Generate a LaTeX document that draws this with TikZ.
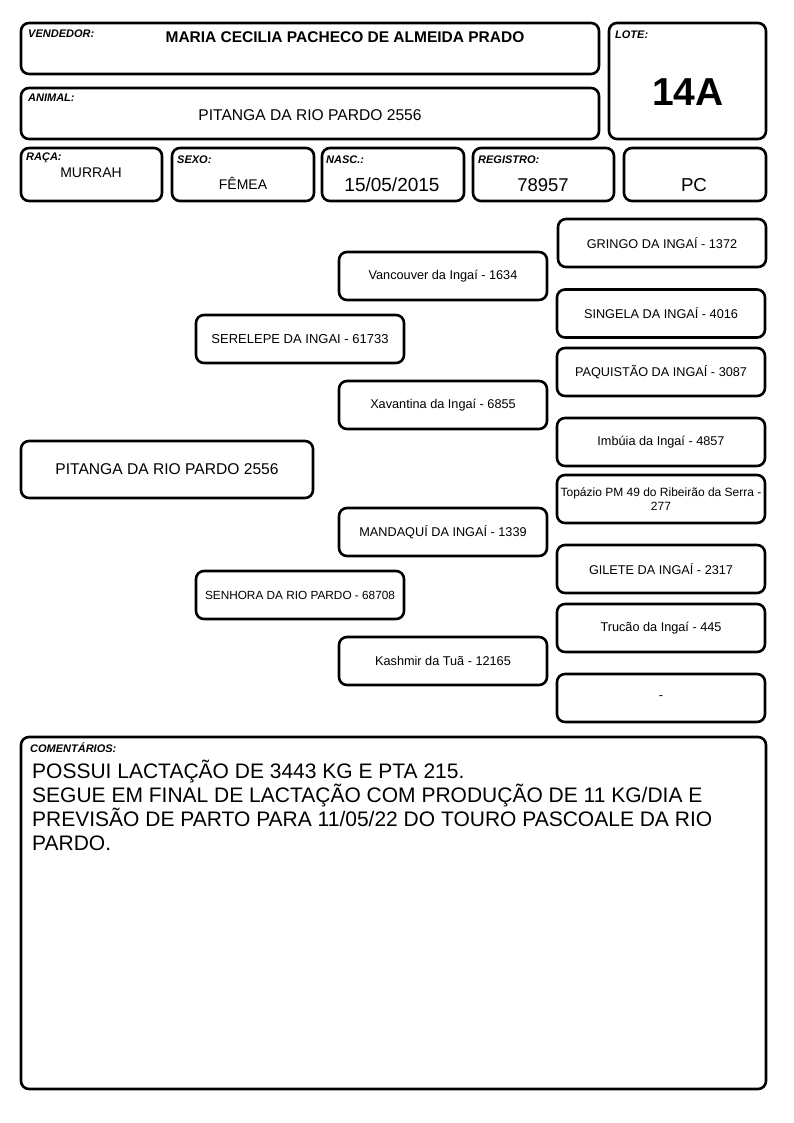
\documentclass[tikz,border=0pt]{standalone}
\usepackage{fontspec}
\setmainfont{Liberation Sans}
\begin{document}
\begin{tikzpicture}[x=1pt,y=-1pt,
  box/.style={draw=black, line width=2.6pt, rounded corners=8pt, fill=white, inner sep=1pt, align=center},
  lbl/.style={anchor=base west, inner sep=0pt, font=\fontsize{11}{12}\selectfont\bfseries\itshape},
  val/.style={anchor=base, inner sep=0pt},
  ped/.style={box, minimum width=208, minimum height=48, font=\fontsize{12.7}{14}\selectfont},
  pedsm/.style={box, minimum width=208, minimum height=48, font=\fontsize{12}{14}\selectfont}]
\useasboundingbox (0,0) rectangle (794,1123);
\fill[white] (0,0) rectangle (794,1123);

% header boxes
\node[box, minimum width=578, minimum height=51] (vend) at (310,48.5) {};
\node[box, minimum width=157, minimum height=116] (lote) at (687.5,81) {};
\node[box, minimum width=578, minimum height=51] (anim) at (310,113.5) {};
\node[box, minimum width=141, minimum height=53] (raca) at (91.5,174.5) {};
\node[box, minimum width=142, minimum height=53] (sexo) at (243,174.5) {};
\node[box, minimum width=142, minimum height=53] (nasc) at (393,174.5) {};
\node[box, minimum width=141, minimum height=53] (reg) at (543.5,174.5) {};
\node[box, minimum width=142, minimum height=53] (pc) at (695,174.5) {};

\node[lbl] (vendl) at (28,38) {VENDEDOR:};
\node[val, font=\fontsize{15.5}{18}\selectfont\bfseries] (vendv) at (345,43) {MARIA CECILIA PACHECO DE ALMEIDA PRADO};
\node[lbl] (lotel) at (615,39) {LOTE:};
\node[val, font=\fontsize{39}{44}\selectfont\bfseries] (lotev) at (688,105.5) {14A};
\node[lbl] (animl) at (28,102) {ANIMAL:};
\node[val, font=\fontsize{15.6}{18}\selectfont] (animv) at (310,121) {PITANGA DA RIO PARDO 2556};
\node[lbl] (racal) at (26,161) {RAÇA:};
\node[val, font=\fontsize{14}{16}\selectfont] (racav) at (91,178) {MURRAH};
\node[lbl] (sexol) at (177,164) {SEXO:};
\node[val, font=\fontsize{14}{16}\selectfont] (sexov) at (243,190) {FÊMEA};
\node[lbl] (nascl) at (326,164) {NASC.:};
\node[val, font=\fontsize{19}{22}\selectfont] (nascv) at (392,191.5) {15/05/2015};
\node[lbl] (regl) at (478,164) {REGISTRO:};
\node[val, font=\fontsize{18.5}{22}\selectfont] (regv) at (543,192) {78957};
\node[val, font=\fontsize{18.7}{22}\selectfont] (pcv) at (694,192) {PC};

% pedigree
\node[box, minimum width=292, minimum height=57, font=\fontsize{15.6}{18}\selectfont] (main) at (167,469.5) {PITANGA DA RIO PARDO 2556};
\node[box, minimum width=208, minimum height=48, font=\fontsize{13}{15}\selectfont] (pai) at (300,339) {SERELEPE DA INGAI - 61733};
\node[box, minimum width=208, minimum height=48, font=\fontsize{11.8}{14}\selectfont] (mae) at (300,595) {SENHORA DA RIO PARDO - 68708};
\node[ped] (avp1) at (443,276) {Vancouver da Ingaí - 1634};
\node[ped] (avp2) at (443,405) {Xavantina da Ingaí - 6855};
\node[ped] (avm1) at (443,532) {MANDAQUÍ DA INGAÍ - 1339};
\node[ped] (avm2) at (443,661) {Kashmir da Tuã - 12165};
\node[ped] (b1) at (662,243) {GRINGO DA INGAÍ - 1372};
\node[ped] (b2) at (661,313.5) {SINGELA DA INGAÍ - 4016};
\node[ped] (b3) at (661,372) {PAQUISTÃO DA INGAÍ - 3087};
\node[ped] (b4) at (661,442) {Imbúia da Ingaí - 4857};
\node[pedsm, inner sep=0pt] (b5) at (661,499) {Topázio PM 49 do Ribeirão da Serra -\\277};
\node[ped] (b6) at (661,569) {GILETE DA INGAÍ - 2317};
\node[ped] (b7) at (661,628) {Trucão da Ingaí - 445};
\node[ped] (b8) at (661,698) {-};

% comments
\node[box, minimum width=745, minimum height=352] (com) at (393.5,913) {};
\node[lbl] (coml) at (30,752) {COMENTÁRIOS:};
\node[val, anchor=base west, font=\fontsize{21}{24}\selectfont] (c1) at (32,778) {POSSUI LACTAÇÃO DE 3443 KG E PTA 215.};
\node[val, anchor=base west, font=\fontsize{21}{24}\selectfont] (c2) at (32,802) {SEGUE EM FINAL DE LACTAÇÃO COM PRODUÇÃO DE 11 KG/DIA E};
\node[val, anchor=base west, font=\fontsize{21}{24}\selectfont] (c3) at (32,826) {PREVISÃO DE PARTO PARA 11/05/22 DO TOURO PASCOALE DA RIO};
\node[val, anchor=base west, font=\fontsize{21}{24}\selectfont] (c4) at (32,850) {PARDO.};
\end{tikzpicture}
\end{document}
